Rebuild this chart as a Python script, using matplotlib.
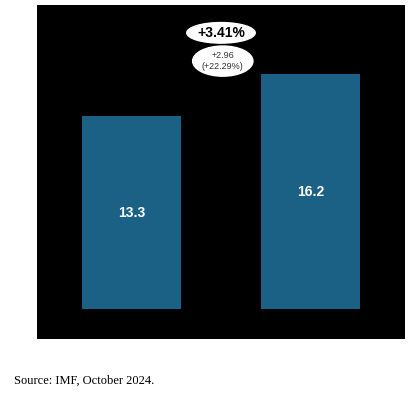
import matplotlib
matplotlib.use("Agg")
import matplotlib.pyplot as plt

plt.rcParams["font.family"] = ["Liberation Sans", "DejaVu Sans"]

categories = ["A", "B"]
values = [13.3, 16.2]
growth_label = "+3.41%"
diff_label = "+2.96\n(+22.29%)"
source = "Source: IMF, October 2024."

fig = plt.figure(figsize=(4.15, 3.93), dpi=100)
ax = fig.add_axes([37 / 415, 1 - 339 / 393, 368 / 415, 334 / 393])
ax.set_facecolor("black")

x = range(len(values))
bars = ax.bar(x, values, width=0.553, color="#1b6085")
for xi, v in zip(x, values):
    ax.text(xi, v / 2, f"{v}", ha="center", va="center", color="white",
            fontsize=10, fontweight="bold")

ax.set_xlim(-0.528, 1.528)
ax.set_ylim(-2.07, 20.97)
ax.set_xticks([])
ax.set_yticks([])
for s in ax.spines.values():
    s.set_visible(False)

ax.text(0.5, 19.05, growth_label, ha="center", va="center", fontsize=10,
        fontweight="bold", color="black",
        bbox=dict(boxstyle="ellipse,pad=0.02", fc="white", ec="white"))
ax.text(0.51, 17.1, diff_label, ha="center", va="center", fontsize=6.5,
        color="#333333", linespacing=1.35,
        bbox=dict(boxstyle="ellipse,pad=0.05", fc="white", ec="white"))

fig.text(14 / 415, 1 - 381 / 393, source, ha="left", va="center",
         fontsize=9, family="Liberation Serif")

fig.savefig("out.png", dpi=100)
